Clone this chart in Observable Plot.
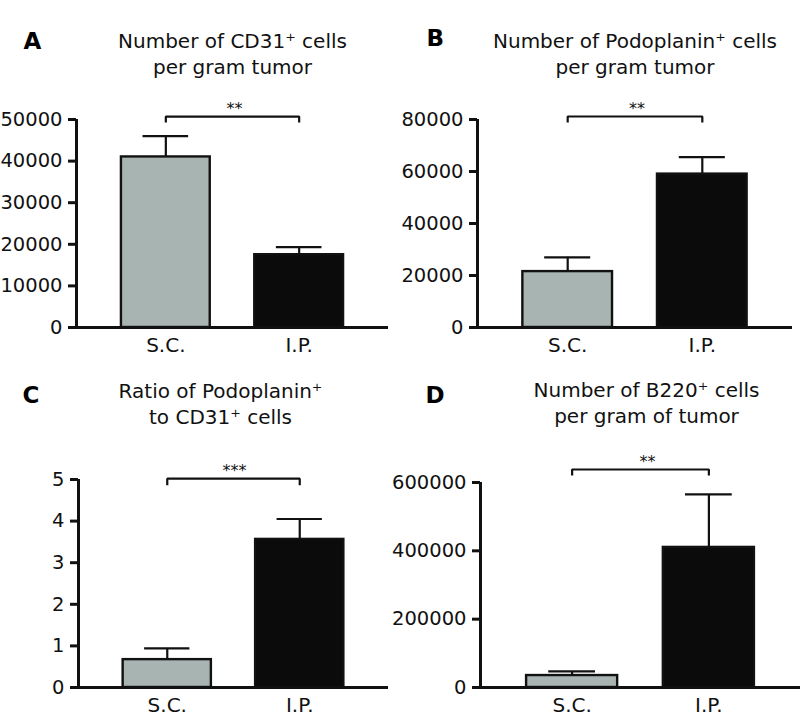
<!DOCTYPE html>
<html>
<head>
<meta charset="utf-8">
<script src="https://cdn.jsdelivr.net/npm/d3@7"></script>
<script src="https://cdn.jsdelivr.net/npm/@observablehq/plot@0.6"></script>
<style>
  html, body { margin: 0; padding: 0; background: #fff; }
  #wrap { position: relative; width: 800px; height: 723px; overflow: hidden; background: #fff; }
  #wrap > div { position: absolute; }
</style>
</head>
<body>
<div id="wrap"></div>
<script>
// ---- data ----
const categories = ["S.C.", "I.P."];
const panelLetters = ["A", "B", "C", "D"];
const panelTitles = [
  "Number of CD31\u207A cells\nper gram tumor",
  "Number of Podoplanin\u207A cells\nper gram tumor",
  "Ratio of Podoplanin\u207A\nto CD31\u207A cells",
  "Number of B220\u207A cells\nper gram of tumor"
];
const meanA = [41000, 17500];
const errA  = [5000, 1800];
const meanB = [21500, 59000];
const errB  = [5500, 6500];
const meanC = [0.67, 3.56];
const errC  = [0.27, 0.49];
const meanD = [35000, 410000];
const errD  = [12000, 155000];
const ticksA = [0, 10000, 20000, 30000, 40000, 50000];
const ticksB = [0, 20000, 40000, 60000, 80000];
const ticksC = [0, 1, 2, 3, 4, 5];
const ticksD = [0, 200000, 400000, 600000];
const significance = ["**", "**", "***", "**"];
const bracketTop  = [50700, 81150, 5.02, 638000];
const bracketFoot = [49300, 78850, 4.86, 620500];

// ---- layout / style ----
const FONT = "DejaVu Sans";
const barColors = ["#a8b4b2", "#0b0b0b"];
const xDomain = [-0.67, 1.67];
const halfBar = 0.333;
const halfCap = 0.171;

const panels = [
  {left: 0,   top: 0,   h: 360, ml: 76, mr: 12, mt: 119, mb: 33, mean: meanA, err: errA, ticks: ticksA,
   tdx: 0,   tdy: -90, ldx: -53, ldy: -87, sdx: 2},
  {left: 400, top: 0,   h: 360, ml: 77, mr: 8,  mt: 119, mb: 33, mean: meanB, err: errB, ticks: ticksB,
   tdx: 0,   tdy: -90, ldx: -51, ldy: -90, sdx: 2},
  {left: 0,   top: 360, h: 363, ml: 78, mr: 12, mt: 119, mb: 36, mean: meanC, err: errC, ticks: ticksC,
   tdx: -13, tdy: -100, ldx: -56, ldy: -93, sdx: 1},
  {left: 400, top: 360, h: 363, ml: 80, mr: 0,  mt: 122, mb: 36, mean: meanD, err: errD, ticks: ticksD,
   tdx: 6,   tdy: -104, ldx: -55, ldy: -96, sdx: 7}
];

const wrap = document.getElementById("wrap");

panels.forEach((p, i) => {
  const data = categories.map((c, k) => ({
    cat: c, pos: k, value: p.mean[k], upper: p.mean[k] + p.err[k], fill: barColors[k]
  }));
  const ymax = p.ticks[p.ticks.length - 1];
  const bracket = [
    {x: 0, y: bracketFoot[i]}, {x: 0, y: bracketTop[i]},
    {x: 1, y: bracketTop[i]}, {x: 1, y: bracketFoot[i]}
  ];
  const plot = Plot.plot({
    width: 400,
    height: p.h,
    marginLeft: p.ml,
    marginRight: p.mr,
    marginTop: p.mt,
    marginBottom: p.mb,
    style: {fontFamily: FONT, overflow: "visible", background: "transparent", color: "#111"},
    x: {type: "linear", domain: xDomain},
    y: {type: "linear", domain: [0, ymax]},
    marks: [
      // error bars
      Plot.ruleX(data, {x: "pos", y1: "value", y2: "upper", stroke: "#111", strokeWidth: 2.2}),
      Plot.ruleY(data, {y: "upper", x1: d => d.pos - halfCap, x2: d => d.pos + halfCap, stroke: "#111", strokeWidth: 2.2}),
      // bars
      Plot.rectY(data, {x1: d => d.pos - halfBar, x2: d => d.pos + halfBar, y1: 0, y2: "value",
        fill: "fill", stroke: "#111", strokeWidth: 2.4}),
      // axes
      Plot.axisY({ticks: p.ticks, tickFormat: d => String(d), tickSize: 8, tickPadding: 6,
        strokeWidth: 3, fontSize: 19.5, fill: "#111"}),
      Plot.axisX({ticks: [0, 1], tickFormat: k => categories[k], tickSize: 0, tickPadding: 10,
        fontSize: 20, fill: "#111"}),
      Plot.ruleX([xDomain[0]], {stroke: "#111", strokeWidth: 3}),
      Plot.ruleY([0], {stroke: "#111", strokeWidth: 3}),
      // significance bracket
      Plot.line(bracket, {x: "x", y: "y", stroke: "#111", strokeWidth: 2.2, strokeLinejoin: "miter", strokeLinecap: "butt"}),
      Plot.text([significance[i]], {x: 0.5, y: bracketTop[i], text: d => d, dx: p.sdx, dy: -8,
        lineAnchor: "middle", fontSize: 16, fill: "#111"}),
      // title
      Plot.text([panelTitles[i]], {x: 0.5, frameAnchor: "top", text: d => d, dx: p.tdx, dy: p.tdy,
        lineAnchor: "top", lineHeight: 1.3, fontSize: 20, fill: "#111"}),
      // panel letter
      Plot.text([panelLetters[i]], {frameAnchor: "top-left", text: d => d, dx: p.ldx, dy: p.ldy,
        textAnchor: "start", lineAnchor: "top", fontSize: 23, fontWeight: "bold", fill: "#000"})
    ]
  });
  const holder = document.createElement("div");
  holder.style.left = p.left + "px";
  holder.style.top = p.top + "px";
  holder.appendChild(plot);
  wrap.appendChild(holder);
});
</script>
</body>
</html>
